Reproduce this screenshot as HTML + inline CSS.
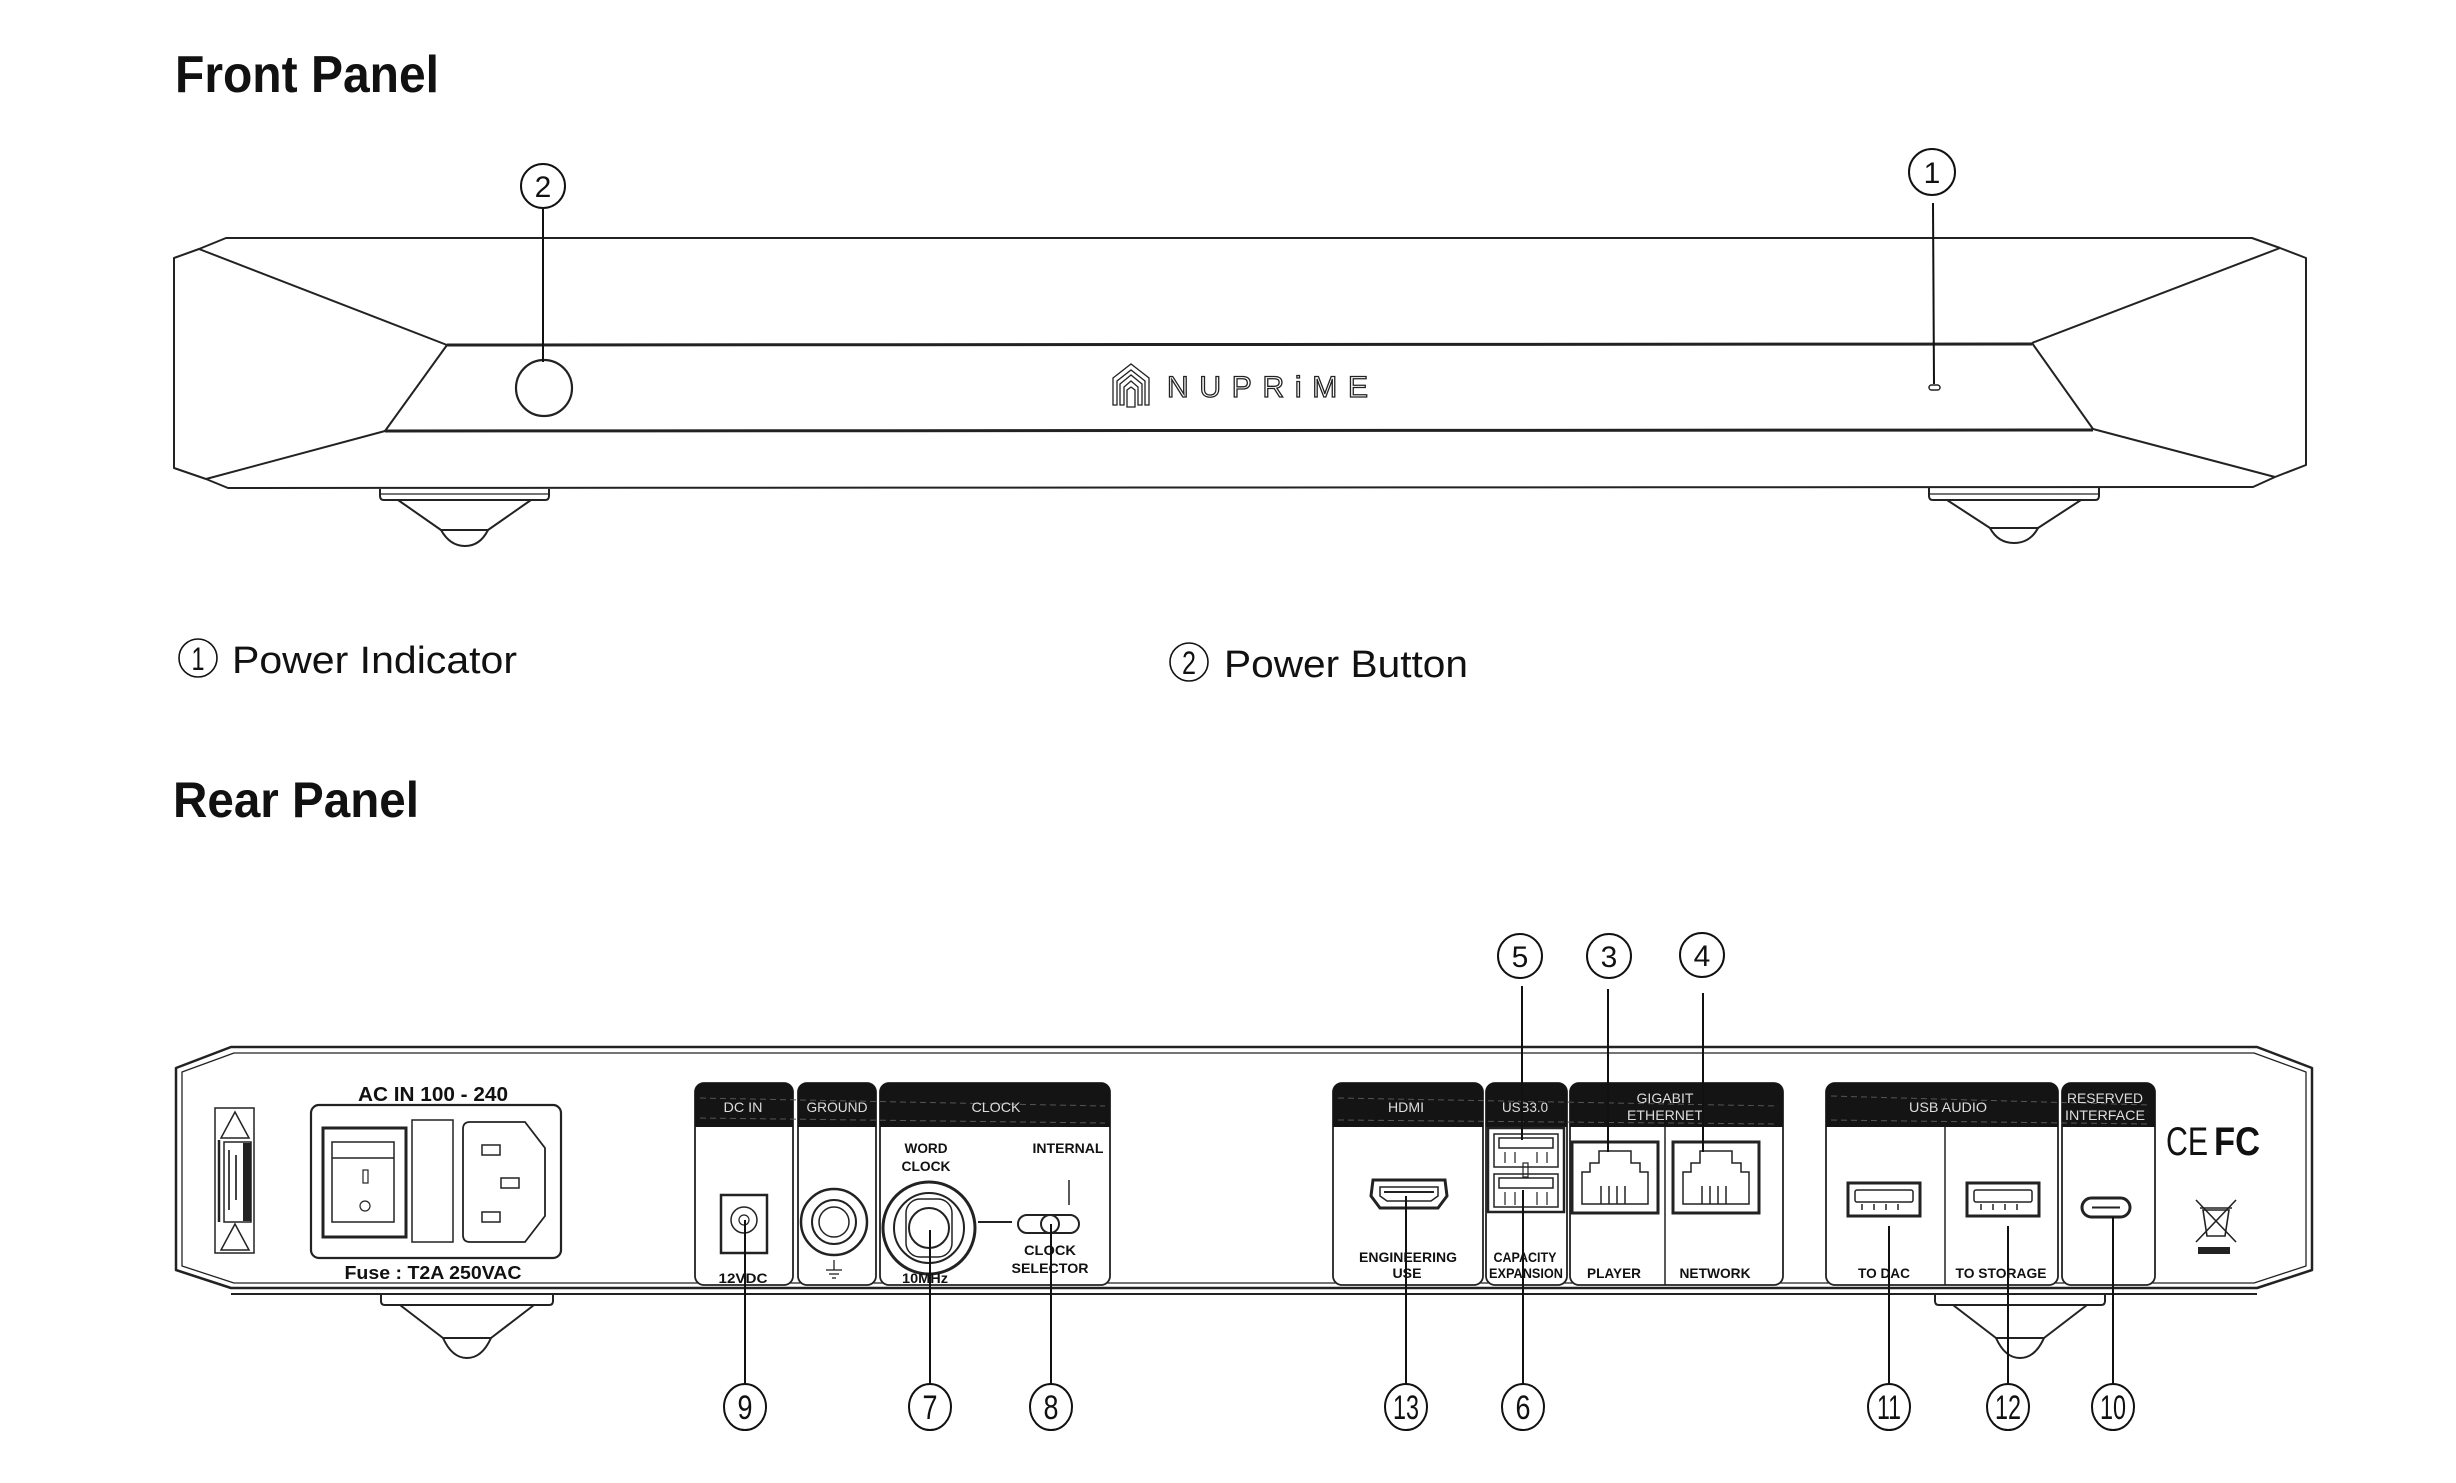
<!DOCTYPE html>
<html><head><meta charset="utf-8"><style>
html,body{margin:0;padding:0;background:#fff;}
svg{display:block;}
</style></head><body>
<svg width="2456" height="1483" viewBox="0 0 2456 1483" xmlns="http://www.w3.org/2000/svg" font-family="Liberation Sans, sans-serif">
<rect width="2456" height="1483" fill="#fff"/>

<!-- Titles -->
<text x="175" y="92" font-size="52" font-weight="bold" textLength="264" lengthAdjust="spacingAndGlyphs" fill="#111">Front Panel</text>
<text x="173" y="817" font-size="50" font-weight="bold" textLength="246" lengthAdjust="spacingAndGlyphs" fill="#111">Rear Panel</text>

<!-- Legend -->
<g fill="#111">
<circle cx="198" cy="658" r="19" fill="none" stroke="#111" stroke-width="1.6"/>
<text x="198" y="670" font-size="32" text-anchor="middle" textLength="13" lengthAdjust="spacingAndGlyphs">1</text>
<text x="232" y="673" font-size="38" textLength="285" lengthAdjust="spacingAndGlyphs">Power Indicator</text>
<circle cx="1189" cy="662" r="19" fill="none" stroke="#111" stroke-width="1.6"/>
<text x="1189" y="674" font-size="32" text-anchor="middle" textLength="14" lengthAdjust="spacingAndGlyphs">2</text>
<text x="1224" y="677" font-size="38" textLength="244" lengthAdjust="spacingAndGlyphs">Power Button</text>
</g>

<!-- ========== FRONT PANEL ========== -->
<g fill="none" stroke="#222" stroke-width="2" stroke-linejoin="round">
<path d="M226,238 L2252,238 L2280,248 L2306,258 L2306,465 L2275,477 L2253,487 L228,488 L206,479 L174,468 L174,258 L199,249 Z"/>
<line x1="199" y1="249" x2="447" y2="345"/>
<line x1="447" y1="345" x2="385" y2="431"/>
<line x1="385" y1="431" x2="206" y2="479"/>
<line x1="2280" y1="248" x2="2032" y2="343"/>
<line x1="2032" y1="343" x2="2093" y2="429"/>
<line x1="2093" y1="429" x2="2275" y2="477"/>
<line x1="447" y1="345" x2="2032" y2="344" stroke-width="3"/>
<line x1="385" y1="431" x2="2093" y2="430" stroke-width="3"/>
<!-- feet -->
<path d="M380,489 L380,496 Q380,500 384,500 L545,500 Q549,500 549,496 L549,489"/>
<line x1="381" y1="494" x2="548" y2="494" stroke-width="1.2"/>
<path d="M398,500 L441,530 L488,530 L531,500"/>
<path d="M441,530 Q450,546 465,546 Q480,546 488,530"/>
<path d="M1929,488 L1929,496 Q1929,500 1933,500 L2095,500 Q2099,500 2099,496 L2099,488"/>
<line x1="1930" y1="494" x2="2098" y2="494" stroke-width="1.2"/>
<path d="M1947,500 L1990,528 L2038,528 L2081,500"/>
<path d="M1990,528 Q1998,543 2014,543 Q2030,543 2038,528"/>
<!-- button and LED -->
<circle cx="544" cy="388" r="28" stroke-width="2.2"/>
<rect x="1929" y="385" width="11" height="5" rx="2.5" stroke-width="1.5"/>
</g>
<!-- logo -->
<g fill="none" stroke="#222" stroke-width="1.3">
<path d="M1113,378 L1131,364 L1149,378 L1149,405 L1145,405 L1145,381 L1131,370 L1117,381 L1117,405 L1113,405 Z"/>
<path d="M1120,384 L1131,375 L1142,384 L1142,405 L1138,405 L1138,387 L1131,381 L1124,387 L1124,405 L1120,405 Z"/>
<path d="M1127,390 L1131,387 L1135,390 L1135,407 L1127,407 Z"/>
</g>
<text x="1167" y="397" font-size="30" fill="#fff" stroke="#222" stroke-width="1.3" textLength="201" lengthAdjust="spacing">NUPRiME</text>

<!-- front callouts -->
<g fill="none" stroke="#111" stroke-width="2">
<circle cx="543" cy="186" r="22"/>
<line x1="543" y1="209" x2="543" y2="362"/>
<circle cx="1932" cy="172" r="23"/>
<line x1="1933" y1="203" x2="1934" y2="384"/>
</g>
<g fill="#111" font-size="30" text-anchor="middle">
<text x="543" y="197">2</text>
<text x="1932" y="183">1</text>
</g>

<!-- ========== REAR PANEL ========== -->
<g fill="none" stroke="#222" stroke-linejoin="round">
<path d="M231,1047 L2257,1047 L2312,1068 L2312,1270 L2257,1288 L231,1288 L176,1270 L176,1068 Z" stroke-width="2.5"/>
<path d="M234,1053 L2254,1053 L2306,1072 L2306,1266 L2254,1283 L234,1283 L182,1266 L182,1072 Z" stroke-width="1.3"/>
<line x1="231" y1="1294" x2="2257" y2="1294" stroke-width="2"/>
<!-- feet -->
<path d="M381,1295 L381,1301 Q381,1305 385,1305 L549,1305 Q553,1305 553,1301 L553,1295" stroke-width="2"/>
<path d="M400,1305 L443,1338 L491,1338 L534,1305" stroke-width="2"/>
<path d="M443,1338 Q452,1358 467,1358 Q482,1358 491,1338" stroke-width="2"/>
<path d="M1935,1295 L1935,1301 Q1935,1305 1939,1305 L2101,1305 Q2105,1305 2105,1301 L2105,1295" stroke-width="2"/>
<path d="M1953,1305 L1996,1338 L2044,1338 L2087,1305" stroke-width="2"/>
<path d="M1996,1338 Q2005,1358 2020,1358 Q2035,1358 2044,1338" stroke-width="2"/>
</g>

<!-- warning sticker -->
<g fill="none" stroke="#222" stroke-width="1.5">
<rect x="215" y="1108" width="39" height="145"/>
<path d="M235,1112 L249,1138 L221,1138 Z"/>
<path d="M235,1224 L249,1250 L221,1250 Z"/>
<rect x="224" y="1142" width="27" height="80"/>
<line x1="219" y1="1140" x2="219" y2="1222" stroke-width="2.5"/>
</g>
<rect x="243" y="1143" width="8" height="78" fill="#222"/>
<line x1="229" y1="1150" x2="229" y2="1210" stroke="#444" stroke-width="2"/>
<line x1="236" y1="1155" x2="236" y2="1200" stroke="#444" stroke-width="2"/>

<!-- AC module -->
<text x="433" y="1101" font-size="20" font-weight="bold" text-anchor="middle" textLength="150" lengthAdjust="spacingAndGlyphs" fill="#111">AC IN  100 - 240</text>
<g fill="none" stroke="#222">
<rect x="311" y="1105" width="250" height="153" rx="8" stroke-width="2.2"/>
<rect x="323" y="1128" width="83" height="109" stroke-width="3"/>
<rect x="332" y="1142" width="62" height="80" stroke-width="1.5"/>
<line x1="332" y1="1158" x2="394" y2="1158" stroke-width="1.5"/>
<rect x="363" y="1170" width="5" height="13" stroke-width="1.2"/>
<circle cx="365" cy="1206" r="5" stroke-width="1.2"/>
<rect x="412" y="1120" width="41" height="122" stroke-width="1.5"/>
<path d="M470,1122 L525,1122 L545,1148 L545,1216 L525,1242 L470,1242 Q463,1242 463,1235 L463,1129 Q463,1122 470,1122 Z" stroke-width="1.8"/>
<rect x="482" y="1145" width="18" height="10" stroke-width="1.5"/>
<rect x="501" y="1178" width="18" height="10" stroke-width="1.5"/>
<rect x="482" y="1212" width="18" height="10" stroke-width="1.5"/>
</g>
<text x="433" y="1279" font-size="18" font-weight="bold" text-anchor="middle" textLength="177" lengthAdjust="spacingAndGlyphs" fill="#111">Fuse : T2A 250VAC</text>

<!-- Module boxes: body outlines -->
<g fill="#fff" stroke="#222" stroke-width="1.8">
<rect x="695" y="1083" width="98" height="202" rx="9"/>
<rect x="798" y="1083" width="78" height="202" rx="9"/>
<rect x="880" y="1083" width="230" height="202" rx="9"/>
<rect x="1333" y="1083" width="150" height="202" rx="9"/>
<rect x="1486" y="1083" width="81" height="202" rx="9"/>
<rect x="1570" y="1083" width="213" height="202" rx="9"/>
<rect x="1826" y="1083" width="232" height="202" rx="9"/>
<rect x="2062" y="1083" width="93" height="202" rx="9"/>
</g>
<!-- headers -->
<g fill="#141414">
<path d="M695,1127 L695,1092 Q695,1083 704,1083 L784,1083 Q793,1083 793,1092 L793,1127 Z"/>
<path d="M798,1127 L798,1092 Q798,1083 807,1083 L867,1083 Q876,1083 876,1092 L876,1127 Z"/>
<path d="M880,1127 L880,1092 Q880,1083 889,1083 L1101,1083 Q1110,1083 1110,1092 L1110,1127 Z"/>
<path d="M1333,1127 L1333,1092 Q1333,1083 1342,1083 L1474,1083 Q1483,1083 1483,1092 L1483,1127 Z"/>
<path d="M1486,1127 L1486,1092 Q1486,1083 1495,1083 L1558,1083 Q1567,1083 1567,1092 L1567,1127 Z"/>
<path d="M1570,1127 L1570,1092 Q1570,1083 1579,1083 L1774,1083 Q1783,1083 1783,1092 L1783,1127 Z"/>
<path d="M1826,1127 L1826,1092 Q1826,1083 1835,1083 L2049,1083 Q2058,1083 2058,1092 L2058,1127 Z"/>
<path d="M2062,1127 L2062,1092 Q2062,1083 2071,1083 L2146,1083 Q2155,1083 2155,1092 L2155,1127 Z"/>
</g>
<g stroke="#555" stroke-width="1" stroke-dasharray="6 4">
<line x1="700" y1="1098" x2="1105" y2="1106"/>
<line x1="700" y1="1118" x2="1105" y2="1123"/>
<line x1="1338" y1="1098" x2="1778" y2="1106"/>
<line x1="1338" y1="1120" x2="1778" y2="1124"/>
<line x1="1831" y1="1096" x2="2150" y2="1105"/>
<line x1="1831" y1="1120" x2="2150" y2="1124"/>
</g>
<g fill="#ddd" font-size="14" text-anchor="middle">
<text x="743" y="1112" textLength="39" lengthAdjust="spacingAndGlyphs">DC IN</text>
<text x="837" y="1112" textLength="61" lengthAdjust="spacingAndGlyphs">GROUND</text>
<text x="996" y="1112" textLength="49" lengthAdjust="spacingAndGlyphs">CLOCK</text>
<text x="1406" y="1112" textLength="36" lengthAdjust="spacingAndGlyphs">HDMI</text>
<text x="1525" y="1112" textLength="46" lengthAdjust="spacingAndGlyphs">USB3.0</text>
<text x="1665" y="1103" textLength="57" lengthAdjust="spacingAndGlyphs">GIGABIT</text>
<text x="1665" y="1120" textLength="76" lengthAdjust="spacingAndGlyphs">ETHERNET</text>
<text x="1948" y="1112" textLength="78" lengthAdjust="spacingAndGlyphs">USB AUDIO</text>
<text x="2105" y="1103" textLength="76" lengthAdjust="spacingAndGlyphs">RESERVED</text>
<text x="2105" y="1120" textLength="80" lengthAdjust="spacingAndGlyphs">INTERFACE</text>
</g>
<g stroke="#222" stroke-width="1.5">
<line x1="1665" y1="1127" x2="1665" y2="1285"/>
<line x1="1945" y1="1127" x2="1945" y2="1285"/>
</g>

<!-- DC jack / ground / BNC / switch -->
<g fill="none" stroke="#222">
<rect x="721" y="1195" width="46" height="58" stroke-width="2.5"/>
<circle cx="744" cy="1220" r="13" stroke-width="1.5"/>
<circle cx="744" cy="1220" r="5" stroke-width="1.2"/>
<circle cx="834" cy="1222" r="33" stroke-width="2.5"/>
<circle cx="834" cy="1222" r="22" stroke-width="2"/>
<circle cx="834" cy="1222" r="15" stroke-width="1.5"/>
<circle cx="929" cy="1228" r="46" stroke-width="3"/>
<circle cx="929" cy="1228" r="35" stroke-width="2"/>
<rect x="906" y="1199" width="46" height="58" rx="14" stroke-width="1.5"/>
<circle cx="929" cy="1228" r="20" stroke-width="2"/>
<line x1="978" y1="1222" x2="1012" y2="1222" stroke-width="2"/>
<rect x="1018" y="1215" width="61" height="18" rx="9" stroke-width="2"/>
<rect x="1041" y="1215" width="18" height="18" rx="9" stroke-width="2"/>
<line x1="1069" y1="1180" x2="1069" y2="1205" stroke-width="1.5"/>
<line x1="834" y1="1260" x2="834" y2="1270" stroke-width="1.3"/>
<line x1="826" y1="1270" x2="842" y2="1270" stroke-width="1.3"/>
<line x1="829" y1="1274" x2="839" y2="1274" stroke-width="1.3"/>
<line x1="832" y1="1278" x2="836" y2="1278" stroke-width="1.3"/>
</g>
<g fill="#111" font-size="14" font-weight="bold" text-anchor="middle">
<text x="743" y="1283" textLength="49" lengthAdjust="spacingAndGlyphs">12VDC</text>
<text x="925" y="1283" textLength="46" lengthAdjust="spacingAndGlyphs">10MHz</text>
<text x="926" y="1153" textLength="43" lengthAdjust="spacingAndGlyphs">WORD</text>
<text x="926" y="1171" textLength="49" lengthAdjust="spacingAndGlyphs">CLOCK</text>
<text x="1068" y="1153" textLength="71" lengthAdjust="spacingAndGlyphs">INTERNAL</text>
<text x="1050" y="1255" textLength="52" lengthAdjust="spacingAndGlyphs">CLOCK</text>
<text x="1050" y="1273" textLength="77" lengthAdjust="spacingAndGlyphs">SELECTOR</text>
<text x="1408" y="1262" textLength="98" lengthAdjust="spacingAndGlyphs">ENGINEERING</text>
<text x="1407" y="1278" textLength="29" lengthAdjust="spacingAndGlyphs">USE</text>
<text x="1525" y="1262" textLength="63" lengthAdjust="spacingAndGlyphs">CAPACITY</text>
<text x="1526" y="1278" textLength="74" lengthAdjust="spacingAndGlyphs">EXPANSION</text>
<text x="1614" y="1278" textLength="54" lengthAdjust="spacingAndGlyphs">PLAYER</text>
<text x="1715" y="1278" textLength="71" lengthAdjust="spacingAndGlyphs">NETWORK</text>
<text x="1884" y="1278" textLength="52" lengthAdjust="spacingAndGlyphs">TO DAC</text>
<text x="2001" y="1278" textLength="91" lengthAdjust="spacingAndGlyphs">TO STORAGE</text>
</g>

<!-- HDMI -->
<g fill="none" stroke="#222">
<path d="M1373,1180 L1445,1180 L1447,1196 L1438,1208 L1380,1208 L1371,1196 Z" stroke-width="3"/>
<path d="M1380,1187 L1438,1187 L1438,1196 L1431,1201 L1387,1201 L1380,1196 Z" stroke-width="1.5"/>
<line x1="1384" y1="1192" x2="1434" y2="1192" stroke-width="2"/>
</g>
<!-- USB3.0 stack -->
<g fill="none" stroke="#222">
<rect x="1488" y="1128" width="76" height="84" stroke-width="2.5"/>
<rect x="1494" y="1134" width="64" height="33" stroke-width="1.5"/>
<rect x="1499" y="1138" width="54" height="10" stroke-width="1.5"/>
<rect x="1494" y="1174" width="64" height="33" stroke-width="1.5"/>
<rect x="1499" y="1178" width="54" height="10" stroke-width="1.5"/>
<rect x="1523" y="1163" width="5" height="14" stroke-width="1.2"/>
<line x1="1505" y1="1152" x2="1505" y2="1163" stroke-width="1.2"/>
<line x1="1515" y1="1152" x2="1515" y2="1163" stroke-width="1.2"/>
<line x1="1537" y1="1152" x2="1537" y2="1163" stroke-width="1.2"/>
<line x1="1547" y1="1152" x2="1547" y2="1163" stroke-width="1.2"/>
<line x1="1505" y1="1192" x2="1505" y2="1205" stroke-width="1.2"/>
<line x1="1515" y1="1192" x2="1515" y2="1205" stroke-width="1.2"/>
<line x1="1537" y1="1192" x2="1537" y2="1205" stroke-width="1.2"/>
<line x1="1547" y1="1192" x2="1547" y2="1205" stroke-width="1.2"/>
</g>
<!-- RJ45 -->
<g fill="none" stroke="#222">
<rect x="1572" y="1142" width="86" height="71" stroke-width="3"/>
<path d="M1582,1172 L1590,1172 L1590,1163 L1599,1163 L1599,1151 L1631,1151 L1631,1163 L1640,1163 L1640,1172 L1648,1172 L1648,1204 L1582,1204 Z" stroke-width="1.5"/>
<path d="M1601,1186 V1204 M1609,1186 V1204 M1617,1186 V1204 M1625,1186 V1204" stroke-width="1.5"/>
<rect x="1673" y="1142" width="86" height="71" stroke-width="3"/>
<path d="M1683,1172 L1691,1172 L1691,1163 L1700,1163 L1700,1151 L1732,1151 L1732,1163 L1741,1163 L1741,1172 L1749,1172 L1749,1204 L1683,1204 Z" stroke-width="1.5"/>
<path d="M1702,1186 V1204 M1710,1186 V1204 M1718,1186 V1204 M1726,1186 V1204" stroke-width="1.5"/>
</g>
<!-- USB-A audio -->
<g fill="none" stroke="#222">
<rect x="1848" y="1183" width="72" height="33" stroke-width="3"/>
<rect x="1855" y="1190" width="58" height="12" rx="2" stroke-width="1.5"/>
<path d="M1862,1204 V1210 M1874,1204 V1210 M1886,1204 V1210 M1898,1204 V1210" stroke-width="1.5"/>
<rect x="1967" y="1183" width="72" height="33" stroke-width="3"/>
<rect x="1974" y="1190" width="58" height="12" rx="2" stroke-width="1.5"/>
<path d="M1981,1204 V1210 M1993,1204 V1210 M2005,1204 V1210 M2017,1204 V1210" stroke-width="1.5"/>
<!-- USB-C -->
<rect x="2082" y="1198" width="48" height="19" rx="9.5" stroke-width="3"/>
<line x1="2092" y1="1207.5" x2="2120" y2="1207.5" stroke-width="2"/>
</g>

<!-- CE FC + WEEE -->
<text x="2166" y="1155" font-size="40" textLength="42" lengthAdjust="spacingAndGlyphs" fill="#111">CE</text>
<text x="2214" y="1155" font-size="40" font-weight="bold" textLength="46" lengthAdjust="spacingAndGlyphs" fill="#111">FC</text>
<g fill="none" stroke="#222" stroke-width="1.6">
<path d="M2203,1210 L2207,1236 L2225,1236 L2229,1210 Z"/>
<line x1="2200" y1="1208" x2="2232" y2="1208"/>
<line x1="2196" y1="1200" x2="2236" y2="1242"/>
<line x1="2236" y1="1200" x2="2196" y2="1242"/>
</g>
<rect x="2198" y="1247" width="32" height="7" fill="#222"/>

<!-- rear leaders -->
<g stroke="#111" stroke-width="2" fill="none">
<line x1="1522" y1="986" x2="1522" y2="1140"/>
<line x1="1608" y1="989" x2="1608" y2="1152"/>
<line x1="1703" y1="993" x2="1703" y2="1152"/>
<line x1="745" y1="1220" x2="745" y2="1384"/>
<line x1="930" y1="1230" x2="930" y2="1384"/>
<line x1="1051" y1="1224" x2="1051" y2="1384"/>
<line x1="1406" y1="1196" x2="1406" y2="1384"/>
<line x1="1523" y1="1190" x2="1523" y2="1384"/>
<line x1="1889" y1="1226" x2="1889" y2="1384"/>
<line x1="2008" y1="1226" x2="2008" y2="1384"/>
<line x1="2113" y1="1217" x2="2113" y2="1384"/>
<!-- callout circles -->
<circle cx="1520" cy="956" r="22"/>
<circle cx="1609" cy="956" r="22"/>
<circle cx="1702" cy="955" r="22"/>
<ellipse cx="745" cy="1407" rx="21" ry="23"/>
<ellipse cx="930" cy="1407" rx="21" ry="23"/>
<ellipse cx="1051" cy="1407" rx="21" ry="23"/>
<ellipse cx="1406" cy="1407" rx="21" ry="23"/>
<ellipse cx="1523" cy="1407" rx="21" ry="23"/>
<ellipse cx="1889" cy="1407" rx="21" ry="23"/>
<ellipse cx="2008" cy="1407" rx="21" ry="23"/>
<ellipse cx="2113" cy="1407" rx="21" ry="23"/>
</g>
<g fill="#111" font-size="30" text-anchor="middle">
<text x="1520" y="967">5</text>
<text x="1609" y="967">3</text>
<text x="1702" y="966">4</text>
</g>
<g fill="#111" font-size="34" text-anchor="middle">
<text x="745" y="1419" textLength="15" lengthAdjust="spacingAndGlyphs">9</text>
<text x="930" y="1419" textLength="15" lengthAdjust="spacingAndGlyphs">7</text>
<text x="1051" y="1419" textLength="15" lengthAdjust="spacingAndGlyphs">8</text>
<text x="1406" y="1419" textLength="26" lengthAdjust="spacingAndGlyphs">13</text>
<text x="1523" y="1419" textLength="15" lengthAdjust="spacingAndGlyphs">6</text>
<text x="1889" y="1419" textLength="24" lengthAdjust="spacingAndGlyphs">11</text>
<text x="2008" y="1419" textLength="26" lengthAdjust="spacingAndGlyphs">12</text>
<text x="2113" y="1419" textLength="26" lengthAdjust="spacingAndGlyphs">10</text>
</g>
</svg>
</body></html>
